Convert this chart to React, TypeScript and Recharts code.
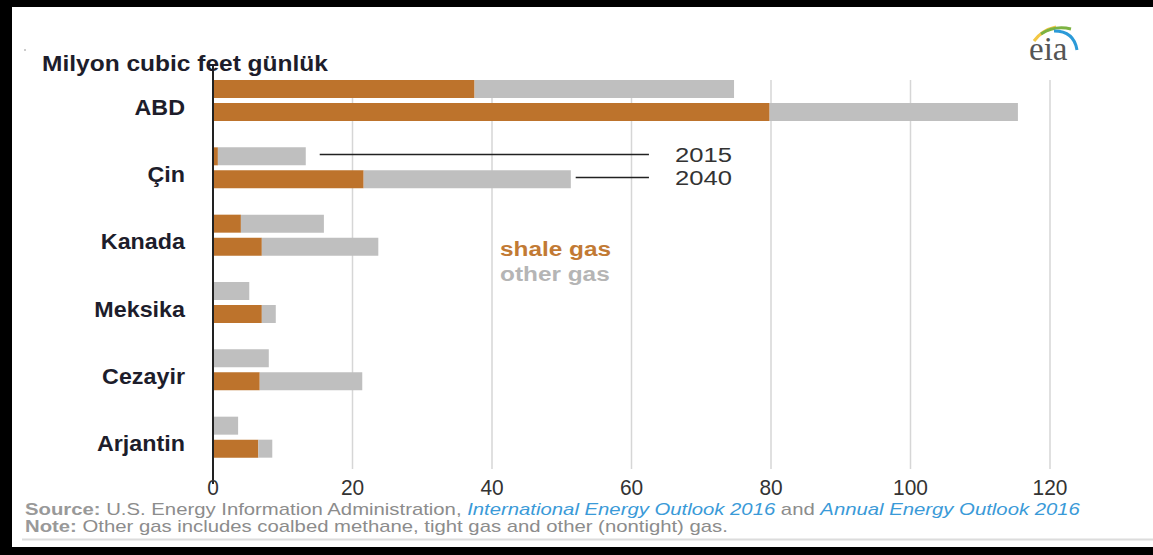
import React from 'react'
import { BarChart, Bar, XAxis, YAxis, CartesianGrid, ReferenceLine, Legend } from 'recharts'

// ulke kategorileri ve degerler (milyon cubic feet / gun)
const countries = ['ABD', 'Çin', 'Kanada', 'Meksika', 'Cezayir', 'Arjantin']
const shale2015 = [37.5, 0.7, 4.0, 0, 0, 0]
const other2015 = [37.2, 12.6, 11.9, 5.2, 8.0, 3.6]
const shale2040 = [79.8, 21.6, 7.0, 7.0, 6.7, 6.5]
const other2040 = [35.6, 29.7, 16.7, 2.0, 14.7, 2.0]
const xTicks = [0, 20, 40, 60, 80, 100, 120]

// yil etiketleri (Cin satirina bagli cizgiler)
const yearLabels = ['2015', '2040']
const leaderStart = [15.3, 52.0]
const leaderEnd = 62.5
const legendLabels = ['shale gas', 'other gas']

const SHALE = '#bd732c'
const OTHER = '#bfbfbf'
const FONT = "'Liberation Sans', Arial, sans-serif"

const rows = countries.map((c, i) => ({
  country: c,
  shale2015: shale2015[i],
  other2015: other2015[i],
  shale2040: shale2040[i],
  other2040: other2040[i],
}))

const BAR = 18
const GAP = 5

const CountryTick = ({ x, y, payload }: any) => (
  <text transform={`translate(${x - 20},${y + 14}) scale(1.06,1)`} textAnchor='end'
        fontSize={22} fontWeight='bold' fill='#1d1d2b' fontFamily={FONT}>
    {payload.value}
  </text>
)

const ValueTick = ({ x, y, payload }: any) => (
  <text transform={`translate(${x},${y + 16}) scale(0.95,1)`} textAnchor='middle'
        fontSize={22} fill='#333' fontFamily={FONT}>
    {payload.value}
  </text>
)

const leaderShape = (idx: number) => (p: any) => {
  const shift = (idx === 0 ? -1 : 1) * (BAR + GAP) / 2 - 2
  const yy = p.y1 + shift
  return (
    <g>
      <line x1={p.x1} x2={p.x2} y1={yy} y2={yy} stroke='#222' strokeWidth={1.6}/>
      <text transform={`translate(${p.x2 + 26},${yy + 7}) scale(1.22,1)`} fontSize={21}
            fill='#333' fontFamily={FONT}>{yearLabels[idx]}</text>
    </g>
  )
}

const LegendBox = () => (
  <div style={{ fontFamily: FONT, fontWeight: 'bold', fontSize: 19.5, lineHeight: '25px',
                transform: 'scaleX(1.25)', transformOrigin: 'left top' }}>
    <div style={{ color: '#c27a34' }}>{legendLabels[0]}</div>
    <div style={{ color: '#b5b5b5' }}>{legendLabels[1]}</div>
  </div>
)

const App = () => {
  return (
    <div style={{ position: 'absolute', left: 0, top: 0, width: 1153, height: 555, background: '#000' }}>
      <div style={{ position: 'absolute', left: 12, top: 7, width: 1141, height: 540, background: '#fff' }}/>
      <div style={{ position: 'absolute', left: 0, top: 0 }}>
        <BarChart width={1153} height={555} layout='vertical' data={rows}
                  margin={{ top: 67, right: 103, bottom: 54, left: 0 }} barSize={BAR} barGap={GAP}>
          <CartesianGrid horizontal={false}
                         vertical={(p: any) => (
                           <line key={`g-${p.x1}`} x1={p.x1} x2={p.x2} y1={p.y1 + 13} y2={p.y2 - 2}
                                 stroke='#d6d6d6' strokeWidth={1.5}/>
                         )}/>
          <XAxis type='number' domain={[0, 120]} ticks={xTicks} axisLine={false} tickLine={false}
                 tickSize={6} tickMargin={2} height={30} tick={<ValueTick/>} interval={0}/>
          <YAxis type='category' dataKey='country' width={213} axisLine={false} tickLine={false}
                 tickSize={6} tickMargin={2} tick={<CountryTick/>} interval={0}/>

          {/* 2015 ust cubuk, 2040 alt cubuk */}
          <Bar dataKey='shale2015' stackId='y2015' fill={SHALE} isAnimationActive={false}/>
          <Bar dataKey='other2015' stackId='y2015' fill={OTHER} isAnimationActive={false}/>
          <Bar dataKey='shale2040' stackId='y2040' fill={SHALE} isAnimationActive={false}/>
          <Bar dataKey='other2040' stackId='y2040' fill={OTHER} isAnimationActive={false}/>

          {/* sifir ekseni */}
          <ReferenceLine x={0} stroke='#222' strokeWidth={2}
                         shape={(p: any) => <line x1={p.x1} x2={p.x2} y1={p.y1 + 13} y2={p.y2 - 2} stroke='#222' strokeWidth={2}/>}/>

          {yearLabels.map((yl, i) => (
            <ReferenceLine key={yl} segment={[{ x: leaderStart[i], y: countries[1] }, { x: leaderEnd, y: countries[1] }]}
                           shape={leaderShape(i)}/>
          ))}

          <Legend content={<LegendBox/>} layout='horizontal' verticalAlign='middle' align='center'
                  wrapperStyle={{ left: 500, top: 237, width: 200 }}/>
        </BarChart>
      </div>

      {/* baslik, kaynak, logo */}
      <svg width={1153} height={555} style={{ position: 'absolute', left: 0, top: 0, pointerEvents: 'none' }}>
        <rect x={24} y={49} width={2} height={2} fill='#ccc'/>
        <text transform='translate(42,71) scale(1.09,1)' fontSize={22.5} fontWeight='bold' fill='#1d1d2b'
              fontFamily={FONT}>Milyon cubic feet günlük</text>

        <g>
          <path d='M1034 41 Q1042 30 1056 27' stroke='#f2c744' strokeWidth={3} fill='none'/>
          <path d='M1041 34 Q1055 25 1071 29' stroke='#7cb342' strokeWidth={3} fill='none'/>
          <path d='M1054 31 Q1074 31 1077 50' stroke='#2b9ad8' strokeWidth={3} fill='none'/>
          <text x={1029} y={60} fontSize={33} fill='#555' fontFamily="'Liberation Serif', 'DejaVu Serif', serif">eia</text>
        </g>

        <text transform='translate(25,515) scale(1.27,1)' fontSize={16} fontFamily={FONT} fill='#8c8c8c'>
          <tspan fontWeight='bold' fill='#999'>Source:</tspan>
          <tspan> U.S. Energy Information Administration, </tspan>
          <tspan fontStyle='italic' fill='#3a9ad8'>International Energy Outlook 2016</tspan>
          <tspan> and </tspan>
          <tspan fontStyle='italic' fill='#3a9ad8'>Annual Energy Outlook 2016</tspan>
        </text>
        <text transform='translate(25,532) scale(1.27,1)' fontSize={16} fontFamily={FONT} fill='#8c8c8c'>
          <tspan fontWeight='bold' fill='#999'>Note:</tspan>
          <tspan> Other gas includes coalbed methane, tight gas and other (nontight) gas.</tspan>
        </text>
        <line x1={22} x2={1153} y1={539.5} y2={539.5} stroke='#dcdcdc' strokeWidth={2}/>
      </svg>
    </div>
  )
}

export default App
